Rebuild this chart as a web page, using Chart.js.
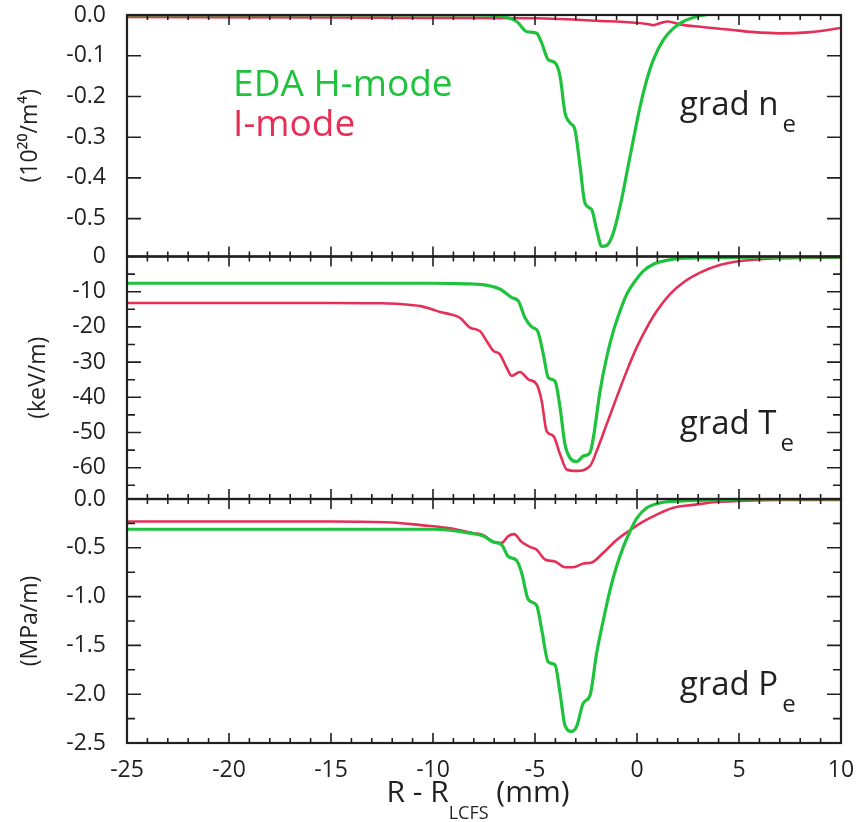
<!DOCTYPE html>
<html lang="en">
<head>
    <meta charset="UTF-8">
    <title>Pedestal gradients: EDA H-mode vs I-mode</title>
    <style>
        body { margin: 0; background: #fff; }
        canvas { display: block; }
    </style>
</head>
<body>
    <canvas id="grad-chart" width="859" height="822"></canvas>
    <script src="https://cdn.jsdelivr.net/npm/chart.js"></script>
    <script>
        // grad n_e (10^20/m^4)
        const neHmodeR = [-25, -15, -8, -6.7, -5.9, -5.4, -4.92, -4.67, -4.35, -4.02, -3.77, -3.53, -3.28, -3.04, -2.79, -2.55, -2.22, -1.98, -1.73, -1.49, -1.16, -0.83, -0.5, -0.18, 0.15, 0.48, 0.8, 1.29, 1.78, 2.27, 3.09, 3.9, 5.54, 10];
        const neHmodeV = [0, 0, 0, -0.003, -0.016, -0.041, -0.045, -0.069, -0.110, -0.117, -0.151, -0.240, -0.265, -0.282, -0.372, -0.462, -0.478, -0.527, -0.568, -0.566, -0.535, -0.470, -0.388, -0.306, -0.225, -0.159, -0.110, -0.061, -0.033, -0.016, -0.002, 0.004, 0.006, 0.006];
        const neImodeR = [-25, -15, -10, -5, -2, 0.5, 0.8, 1.2, 1.5, 2.1, 3.1, 4.7, 5.5, 7.0, 8.5, 10];
        const neImodeV = [-0.005, -0.006, -0.007, -0.008, -0.014, -0.022, -0.025, -0.019, -0.016, -0.023, -0.029, -0.037, -0.041, -0.045, -0.042, -0.032];

        // grad T_e (keV/m)
        const teHmodeR = [-25, -15, -10, -8.2, -7.7, -6.7, -6.14, -5.82, -5.49, -5.16, -4.87, -4.59, -4.35, -4.02, -3.77, -3.53, -3.28, -2.96, -2.63, -2.3, -2.14, -1.81, -1.49, -1.16, -0.83, -0.5, -0.1, 0.32, 0.8, 1.45, 2.27, 3.9, 6, 10];
        const teHmodeV = [-7.6, -7.6, -7.6, -7.8, -7.9, -9.3, -11.7, -12.6, -17.4, -20.0, -21.2, -27.8, -34.4, -35.4, -43.0, -53.4, -57.3, -58.3, -56.7, -55.7, -51.5, -38.2, -28.7, -21.2, -15.5, -10.7, -7.0, -4.1, -2.2, -1.1, -0.5, -0.3, -0.2, -0.2];
        const teImodeR = [-25, -15, -12.5, -11.6, -10.6, -10.1, -9.65, -9.17, -8.68, -8.19, -7.7, -7.37, -7.04, -6.72, -6.39, -6.14, -5.74, -5.33, -4.92, -4.67, -4.43, -4.1, -3.77, -3.45, -2.96, -2.3, -1.98, -1.49, -1.0, -0.5, -0.02, 0.48, 0.97, 1.62, 2.27, 3.09, 3.9, 5.05, 7, 10];
        const teImodeV = [-13.2, -13.2, -13.3, -13.5, -14.1, -14.9, -15.8, -16.4, -17.4, -20.2, -21.2, -24.0, -26.8, -27.8, -31.6, -33.9, -32.8, -34.9, -36.3, -41.1, -49.6, -51.0, -56.2, -60.5, -60.9, -59.5, -55.3, -47.7, -40.1, -32.5, -25.9, -20.2, -15.5, -10.7, -7.4, -4.6, -2.7, -1.3, -0.5, -0.3];

        // grad P_e (MPa/m)
        const peHmodeR = [-25, -15, -10, -9.17, -8.19, -7.53, -7.04, -6.63, -6.31, -5.9, -5.65, -5.33, -4.92, -4.67, -4.35, -4.02, -3.77, -3.53, -3.2, -2.96, -2.63, -2.3, -1.98, -1.65, -1.32, -1.0, -0.67, -0.34, -0.02, 0.48, 1.13, 2.27, 3.9, 6, 10];
        const peHmodeV = [-0.31, -0.31, -0.31, -0.32, -0.35, -0.38, -0.44, -0.47, -0.59, -0.63, -0.76, -1.03, -1.09, -1.34, -1.67, -1.70, -1.99, -2.32, -2.38, -2.33, -2.09, -2.01, -1.58, -1.24, -0.93, -0.69, -0.49, -0.33, -0.20, -0.09, -0.04, -0.02, -0.01, 0, 0];
        const peImodeR = [-25, -15, -12, -10.5, -9.17, -8.68, -8.02, -7.53, -7.04, -6.63, -6.31, -6.03, -5.65, -5.25, -4.92, -4.51, -4.02, -3.53, -3.12, -2.63, -2.22, -1.65, -1.0, -0.34, 0.32, 0.97, 1.78, 2.76, 3.9, 5.05, 7, 10];
        const peImodeV = [-0.23, -0.23, -0.24, -0.27, -0.30, -0.32, -0.35, -0.37, -0.44, -0.45, -0.38, -0.36, -0.44, -0.49, -0.52, -0.62, -0.64, -0.70, -0.70, -0.66, -0.65, -0.55, -0.42, -0.32, -0.23, -0.16, -0.09, -0.06, -0.03, -0.02, -0.01, -0.01];

        const xTicks = [-25, -20, -15, -10, -5, 0, 5, 10];
        const neTicks = [0, -0.1, -0.2, -0.3, -0.4, -0.5];
        const teTicks = [0, -10, -20, -30, -40, -50, -60];
        const peTicks = [0, -0.5, -1.0, -1.5, -2.0, -2.5];

        const GREEN = '#1ec23c';
        const RED = '#e52f57';
        const INK = '#231f20';
        const FONT = "'Open Sans', sans-serif";

        const pts = (r, v) => r.map((x, i) => ({ x: x, y: v[i] }));

        function line(label, r, v, color, yAxisID, width) {
            return {
                label: label,
                data: pts(r, v),
                yAxisID: yAxisID,
                borderColor: color,
                borderWidth: width,
                pointRadius: 0,
                cubicInterpolationMode: 'monotone',
                fill: false
            };
        }

        // panels top to bottom, with the minor tick step of each
        const panels = [
            { id: 'yN', major: 0.1, minor: 0.1 },
            { id: 'yT', major: 10, minor: 5 },
            { id: 'yP', major: 0.5, minor: 0.25 }
        ];

        function yAxis(title, min, tickVals, fmt, weight, stackWeight, titlePad) {
            return {
                type: 'linear',
                position: 'left',
                stack: 'panels',
                stackWeight: stackWeight,
                weight: weight,
                min: min,
                max: 0,
                afterBuildTicks: s => { s.ticks = tickVals.map(v => ({ value: v })); },
                afterFit: s => {
                    s.width = 127;
                    s.paddingTop = 0;
                    s.paddingBottom = 0;
                },
                grid: { display: false },
                border: { display: false },
                ticks: {
                    autoSkip: false,
                    padding: 13,
                    color: INK,
                    font: { family: FONT, size: 23, weight: '500' },
                    callback: fmt
                },
                title: {
                    display: true,
                    text: title,
                    color: INK,
                    font: { family: FONT, size: 23, weight: '500' },
                    padding: { top: titlePad, bottom: 0 }
                }
            };
        }

        const frame = {
            id: 'frame',
            afterDraw(chart) {
                const ctx = chart.ctx;
                const x = chart.scales.x;
                const L = chart.chartArea.left, R = chart.chartArea.right;
                ctx.save();
                ctx.strokeStyle = INK;
                ctx.lineWidth = 1.6;
                panels.forEach(p => {
                    const s = chart.scales[p.id];
                    const top = s.top, bot = s.bottom;
                    ctx.beginPath();
                    for (let v = x.min; v <= x.max; v++) {
                        const px = x.getPixelForValue(v);
                        const len = v % 5 === 0 ? 10 : 5;
                        ctx.moveTo(px, top); ctx.lineTo(px, top + len);
                        ctx.moveTo(px, bot); ctx.lineTo(px, bot - len);
                    }
                    const n = Math.floor((s.max - s.min) / p.minor + 1e-6);
                    for (let i = 0; i <= n; i++) {
                        const v = s.max - i * p.minor;
                        const py = s.getPixelForValue(v);
                        const q = v / p.major;
                        const len = Math.abs(q - Math.round(q)) < 1e-6 ? 14 : 8;
                        ctx.moveTo(L, py); ctx.lineTo(L + len, py);
                        ctx.moveTo(R, py); ctx.lineTo(R - len, py);
                    }
                    ctx.stroke();
                    ctx.lineWidth = 2.2;
                    ctx.strokeRect(L, top, R - L, bot - top);
                    ctx.lineWidth = 1.6;
                });

                // legend text
                const yN = chart.scales.yN, yT = chart.scales.yT, yP = chart.scales.yP;
                ctx.textAlign = 'left';
                ctx.textBaseline = 'alphabetic';
                ctx.font = '500 37px ' + FONT;
                ctx.fillStyle = GREEN;
                ctx.fillText('EDA H-mode', x.getPixelForValue(-19.8), yN.getPixelForValue(-0.2));
                ctx.fillStyle = RED;
                ctx.fillText('I-mode', x.getPixelForValue(-19.8), yN.getPixelForValue(-0.297));

                // panel names with subscripts
                const names = [
                    ['grad n', yN, -0.245],
                    ['grad T', yT, -50.4],
                    ['grad P', yP, -2.01]
                ];
                ctx.fillStyle = INK;
                names.forEach(([txt, s, v]) => {
                    const px = x.getPixelForValue(2.1);
                    const py = s.getPixelForValue(v);
                    ctx.font = '500 33px ' + FONT;
                    ctx.fillText(txt, px, py);
                    const w = ctx.measureText(txt).width;
                    ctx.font = '500 24px ' + FONT;
                    ctx.fillText('e', px + w + 4, py + 17);
                });

                // x axis title with subscript
                const parts = [['R - R', 30, 0], ['LCFS', 18, 17], [' (mm)', 30, 0]];
                let total = 0;
                parts.forEach(([t, size]) => { ctx.font = '500 ' + size + 'px ' + FONT; total += ctx.measureText(t).width; });
                let cx = (L + R) / 2 - total / 2 - 6;
                const base = chart.chartArea.bottom + 59;
                parts.forEach(([t, size, dy]) => {
                    ctx.font = '500 ' + size + 'px ' + FONT;
                    ctx.fillText(t, cx, base + dy);
                    cx += ctx.measureText(t).width;
                });
                ctx.restore();
            }
        };

        new Chart(document.getElementById('grad-chart'), {
            type: 'line',
            data: {
                datasets: [
                    line('EDA H-mode', neHmodeR, neHmodeV, GREEN, 'yN', 3.2),
                    line('I-mode', neImodeR, neImodeV, RED, 'yN', 2.6),
                    line('EDA H-mode', teHmodeR, teHmodeV, GREEN, 'yT', 3.2),
                    line('I-mode', teImodeR, teImodeV, RED, 'yT', 2.6),
                    line('EDA H-mode', peHmodeR, peHmodeV, GREEN, 'yP', 3.2),
                    line('I-mode', peImodeR, peImodeV, RED, 'yP', 2.6)
                ]
            },
            options: {
                responsive: false,
                animation: false,
                layout: { padding: { top: 15, right: 18, left: 0, bottom: 0 } },
                plugins: {
                    legend: { display: false },
                    tooltip: { enabled: false }
                },
                scales: {
                    x: {
                        type: 'linear',
                        position: 'bottom',
                        min: -25,
                        max: 10,
                        afterBuildTicks: s => { s.ticks = xTicks.map(v => ({ value: v })); },
                        afterFit: s => {
                            s.height = 79;
                            s.paddingLeft = 0;
                            s.paddingRight = 0;
                        },
                        grid: { display: false },
                        border: { display: false },
                        ticks: {
                            autoSkip: false,
                            maxRotation: 0,
                            padding: 6,
                            color: INK,
                            font: { family: FONT, size: 23, weight: '500' },
                            callback: v => String(v)
                        }
                    },
                    yN: yAxis('(10²⁰/m⁴)', -0.593, neTicks, v => v.toFixed(1), 3, 241.5, 17),
                    yT: yAxis('(keV/m)', -68.9, teTicks, v => String(v), 2, 242.5, 25),
                    yP: yAxis('(MPa/m)', -2.5, peTicks, v => v.toFixed(1), 1, 244, 17)
                }
            },
            plugins: [frame]
        });
    </script>
</body>
</html>
